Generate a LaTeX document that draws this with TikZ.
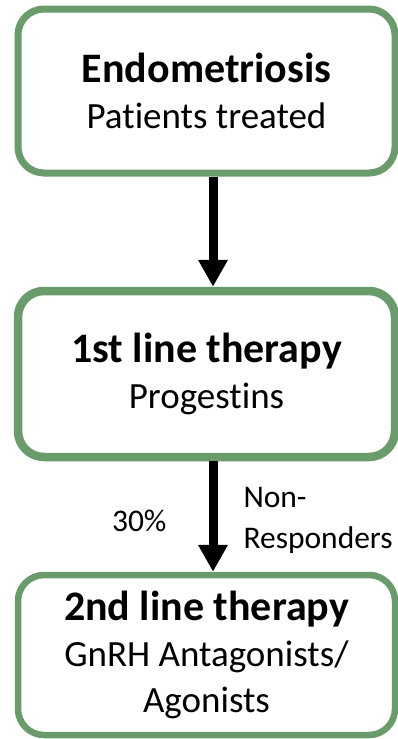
\documentclass[tikz,border=0pt]{standalone}
\usepackage{fontspec}
\setmainfont{Carlito}[Ligatures=CommonOff]
\usepackage{xcolor}
\usepackage{tikz}
\usetikzlibrary{arrows.meta,positioning,calc}
\definecolor{boxgreen}{HTML}{6A9B6A}
\definecolor{inkdark}{HTML}{000000}
\newcommand{\stagetitle}[1]{{\fontsize{42}{46}\selectfont\bfseries #1}}

\begin{document}
\begin{tikzpicture}[
  x=1pt, y=1pt,
  stage/.style={draw=boxgreen, line width=7pt, rounded corners=26pt, fill=white,
                minimum width=377pt, align=center, inner sep=0pt,
                font=\fontsize{37}{46}\selectfont},
  arr/.style={-{Triangle[width=28pt,length=27pt]}, line width=9pt, draw=inkdark},
  lbl/.style={font=\fontsize{31.5}{41}\selectfont, inner sep=0pt}
]
\useasboundingbox (0,0) rectangle (398,-739);
\node[stage, minimum height=164pt] (patients) at (206.5,-91)
  {\stagetitle{Endometriosis}\\Patients treated};
\node[stage, minimum height=166pt, line width=8.5pt] (firstline) at (206.5,-374)
  {\stagetitle{1st line therapy}\\Progestins};
\node[stage, minimum height=160pt, line width=6.5pt] (secondline) at (206.5,-655)
  {\stagetitle{2nd line therapy}\\GnRH Antagonists/\\Agonists};

\draw[arr] ([xshift=6.5pt]patients.south) -- ([xshift=6.5pt]firstline.north);
\draw[arr] ([xshift=6.5pt]firstline.south) -- ([xshift=6.5pt]secondline.north)
  node[lbl, midway, yshift=-4pt, left=42pt] (share) {30\%}
  node[lbl, midway, yshift=-4pt, right=26pt, align=left] (nonresp) {Non-\\Responders};
\end{tikzpicture}
\end{document}
